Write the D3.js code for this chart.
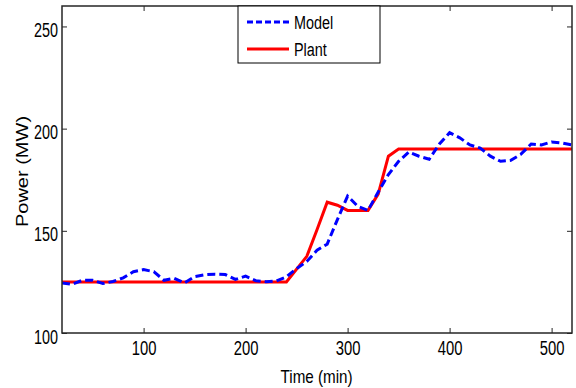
<!DOCTYPE html>
<meta charset="utf-8">
<script src="https://d3js.org/d3.v7.min.js"></script>
<style>
  body { margin: 0; background: #fff; }
  text { font-family: "Liberation Sans", Arial, sans-serif; fill: #000; }
</style>
<div id="chart"></div>
<script>
// data (time in min, power in MW)
var modelTime = [20, 30, 40, 50, 60, 70, 80, 90, 100, 110, 120, 130, 140, 150, 160, 170, 180, 190, 200, 210, 220, 230, 240,
                 250, 260, 270, 280, 290, 300, 310, 320, 330, 340, 350, 360, 370, 380, 390, 400, 410, 420, 430, 440, 450,
                 460, 470, 480, 490, 500, 510, 520];
var modelPower = [124.5, 123.8, 125.8, 125.8, 124.2, 125.2, 127, 130, 131, 130, 125.8, 126.8, 124.5, 127.6, 128.5, 128.8,
                  128.6, 126.2, 127.8, 125.6, 125.1, 125.4, 127.5,
                  131.5, 135, 140.5, 143.5, 155.5, 167, 162, 160, 169, 177.5, 184, 188.5, 186.5, 185, 192.5, 198, 195.5,
                  192, 190.5, 186.5, 184, 184.5, 187.5, 192.5, 192, 193.5, 193, 192];
var plantTime = [20, 240, 260, 270, 280, 290, 300, 320, 330, 340, 350, 520];
var plantPower = [125, 125, 137.5, 150.5, 164, 162.5, 160, 160, 168, 186.5, 190, 190];
var xTicks = [100, 200, 300, 400, 500];
var yTicks = [100, 150, 200, 250];
var seriesNames = ["Model", "Plant"];

var margin = {top: 6, right: 4, bottom: 55, left: 62},
    width = 576 - margin.left - margin.right,
    height = 388 - margin.top - margin.bottom;

var svg = d3.select("#chart")
    .append("svg")
    .attr("width", 576)
    .attr("height", 388)
    .append("g")
    .attr("transform", "translate(" + margin.left + "," + margin.top + ")");

var x = d3.scaleLinear().domain([20, 520]).range([0, width]);
var y = d3.scaleLinear().domain([100, 260]).range([height, 0]);

// squeeze text horizontally like the stretched matlab export
function squeeze(sel, f) {
    sel.each(function() {
        var w = this.getComputedTextLength();
        d3.select(this).attr("textLength", w * f).attr("lengthAdjust", "spacingAndGlyphs");
    });
}

svg.append("defs").append("clipPath").attr("id", "clip")
    .append("rect").attr("width", width).attr("height", height);

var line = d3.line()
    .x(function(d) { return x(d[0]); })
    .y(function(d) { return y(d[1]); });

var plant = plantTime.map(function(t, i) { return [t, plantPower[i]]; });
var model = modelTime.map(function(t, i) { return [t, modelPower[i]]; });

svg.append("path")
    .datum(plant)
    .attr("clip-path", "url(#clip)")
    .attr("d", line)
    .attr("fill", "none")
    .attr("stroke", "#ff0000")
    .attr("stroke-width", 3);

svg.append("path")
    .datum(model)
    .attr("clip-path", "url(#clip)")
    .attr("d", line)
    .attr("fill", "none")
    .attr("stroke", "#0000ff")
    .attr("stroke-width", 3)
    .attr("stroke-dasharray", "8,4");

// axes: box with inward ticks on all sides
var axisColor = "#262626";
svg.append("g")
    .attr("transform", "translate(0," + height + ")")
    .call(d3.axisBottom(x).tickValues(xTicks).tickSizeInner(-5).tickSizeOuter(0).tickPadding(8))
    .call(function(g) {
        g.select(".domain").remove();
        g.selectAll("line").attr("stroke", axisColor);
        g.selectAll("text").attr("font-size", 20).attr("dy", "0.72em").attr("fill", "#000").call(squeeze, 0.74);
    });
svg.append("g")
    .call(d3.axisLeft(y).tickValues(yTicks).tickSizeInner(-5).tickSizeOuter(0).tickPadding(4))
    .call(function(g) {
        g.select(".domain").remove();
        g.selectAll("line").attr("stroke", axisColor);
        g.selectAll("text").attr("font-size", 20).attr("dy", "0.5em").attr("fill", "#000").call(squeeze, 0.72);
    });
svg.append("g")
    .call(d3.axisTop(x).tickValues(xTicks).tickSizeInner(-5).tickSizeOuter(0).tickFormat(""))
    .call(function(g) { g.select(".domain").remove(); g.selectAll("line").attr("stroke", axisColor); });
svg.append("g")
    .attr("transform", "translate(" + width + ",0)")
    .call(d3.axisRight(y).tickValues(yTicks).tickSizeInner(-5).tickSizeOuter(0).tickFormat(""))
    .call(function(g) { g.select(".domain").remove(); g.selectAll("line").attr("stroke", axisColor); });

svg.append("rect")
    .attr("width", width)
    .attr("height", height)
    .attr("fill", "none")
    .attr("stroke", axisColor)
    .attr("stroke-width", 1.5);

// axis titles
svg.append("text")
    .attr("x", x(300) - 31)
    .attr("y", height + 50)
    .attr("text-anchor", "middle")
    .attr("font-size", 19)
    .text("Time (min)")
    .call(squeeze, 0.8);

svg.append("text")
    .attr("transform", "translate(" + (-34) + "," + (y(180) + 2) + ") scale(0.8,1) rotate(-90)")
    .attr("text-anchor", "middle")
    .attr("font-size", 20)
    .text("Power (MW)");

// legend
var legend = svg.append("g").attr("transform", "translate(176,0)");
legend.append("rect")
    .attr("width", 142)
    .attr("height", 57)
    .attr("fill", "#fff")
    .attr("stroke", "#000")
    .attr("stroke-width", 1);
var legendStyles = [{color: "#0000ff", dash: "6,3"}, {color: "#ff0000", dash: null}];
seriesNames.forEach(function(name, i) {
    var ly = 16 + i * 27;
    legend.append("line")
        .attr("x1", 9).attr("x2", 51)
        .attr("y1", ly).attr("y2", ly)
        .attr("stroke", legendStyles[i].color)
        .attr("stroke-width", 3)
        .attr("stroke-dasharray", legendStyles[i].dash);
    legend.append("text")
        .attr("x", 56)
        .attr("y", ly + 7)
        .attr("font-size", 18)
        .text(name)
        .call(squeeze, 0.8);
});
</script>
